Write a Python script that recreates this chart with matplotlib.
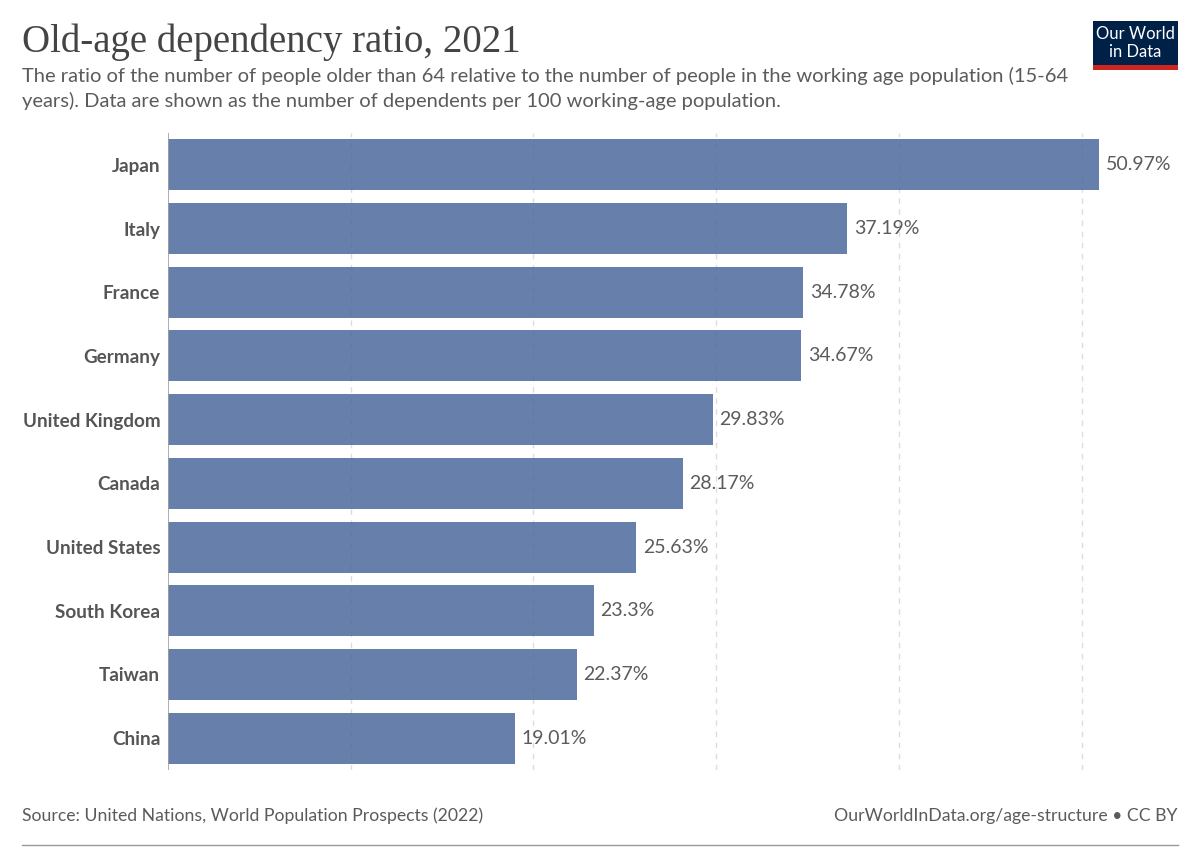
import matplotlib
matplotlib.use("Agg")
import matplotlib.pyplot as plt
from matplotlib.patches import Rectangle

countries = ["Japan", "Italy", "France", "Germany", "United Kingdom", "Canada",
             "United States", "South Korea", "Taiwan", "China"]
values = [50.97, 37.19, 34.78, 34.67, 29.83, 28.17, 25.63, 23.3, 22.37, 19.01]
labels = ["50.97%", "37.19%", "34.78%", "34.67%", "29.83%", "28.17%",
          "25.63%", "23.3%", "22.37%", "19.01%"]
gridticks = [10, 20, 30, 40, 50]

W, H = 1200, 847
fig = plt.figure(figsize=(W / 100, H / 100), dpi=100)
fig.patch.set_facecolor("white")

ax_left, ax_right = 168 / W, 1180 / W
ax_top, ax_bottom = 1 - 133 / H, 1 - 770 / H
ax = fig.add_axes([ax_left, ax_bottom, ax_right - ax_left, ax_top - ax_bottom])
xmax = (1180 - 168) / ((1081.5 - 168) / 50)
ax.set_xlim(0, xmax)
ax.set_ylim(len(countries) - 0.5, -0.5)

ypos = list(range(len(countries)))
for g in gridticks:
    ax.axvline(g, color="#dddddd", lw=1, ls=(0, (4, 4)), zorder=1)
ax.barh(ypos, values, height=0.8, color="#4C6A9C", alpha=0.85, zorder=2)
ax.axvline(0, color="#a0a0a0", lw=1.2, zorder=3)

for y, v, lab in zip(ypos, values, labels):
    ax.text(v + 0.35, y, lab, va="center", ha="left", fontsize=14,
            color="#5b5b5b", family="Lato")

ax.set_yticks(ypos)
ax.set_yticklabels(countries, fontsize=13.6, color="#555555", family="Lato",
                   fontweight="bold")
ax.tick_params(axis="y", length=0, pad=5.5)
ax.set_xticks([])
for s in ax.spines.values():
    s.set_visible(False)

# Title and subtitle
fig.text(22 / W, 1 - 42 / H, "Old-age dependency ratio, 2021", fontsize=28,
         family="Liberation Serif", color="#444444", va="center", ha="left")
fig.text(22 / W, 1 - 76 / H,
         "The ratio of the number of people older than 64 relative to the number of people in the working age population (15-64",
         fontsize=14.5, family="Lato", color="#5b5b5b", va="center", ha="left")
fig.text(22 / W, 1 - 101 / H,
         "years). Data are shown as the number of dependents per 100 working-age population.",
         fontsize=14.5, family="Lato", color="#5b5b5b", va="center", ha="left")

# Logo
lx0, lx1, ly0, ly1 = 1093, 1178, 21, 70
fig.patches.append(Rectangle((lx0 / W, 1 - ly1 / H), (lx1 - lx0) / W, (ly1 - ly0) / H,
                             transform=fig.transFigure, facecolor="#002147",
                             edgecolor="none"))
fig.patches.append(Rectangle((lx0 / W, 1 - ly1 / H), (lx1 - lx0) / W, 5 / H,
                             transform=fig.transFigure, facecolor="#CE261E",
                             edgecolor="none"))
fig.text((lx0 + lx1) / 2 / W, 1 - 34 / H, "Our World", fontsize=12, family="Lato",
         color="white", ha="center", va="center")
fig.text((lx0 + lx1) / 2 / W, 1 - 52 / H, "in Data", fontsize=12, family="Lato",
         color="white", ha="center", va="center")

# Footer
fig.text(22 / W, 1 - 816 / H, "Source: United Nations, World Population Prospects (2022)",
         fontsize=12.7, family="Lato", color="#5b5b5b", va="center", ha="left")
fig.text(1178 / W, 1 - 816 / H, "OurWorldInData.org/age-structure • CC BY",
         fontsize=12.7, family="Lato", color="#5b5b5b", va="center", ha="right")
fig.add_artist(plt.Line2D([22 / W, 1178 / W], [1 - 845 / H, 1 - 845 / H],
                          transform=fig.transFigure, color="#999999", lw=1))

fig.savefig("out.png", dpi=100, facecolor="white")
